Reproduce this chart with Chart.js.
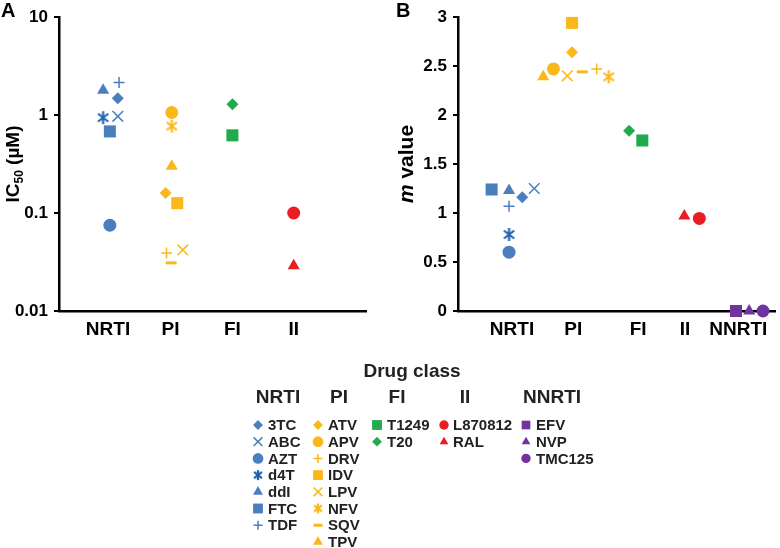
<!DOCTYPE html>
<html><head><meta charset="utf-8">
<script src="https://cdn.jsdelivr.net/npm/chart.js@4.4.1/dist/chart.umd.min.js"></script>
<style>
html,body{margin:0;padding:0;background:#fff;width:780px;height:548px;overflow:hidden}
canvas{position:absolute;display:block}
#cA{left:0;top:0}
#cB{left:390px;top:0}
#leg{left:0;top:345px}
</style></head><body>
<canvas id="cA" width="390" height="345"></canvas>
<canvas id="cB" width="390" height="345"></canvas>
<canvas id="leg" width="780" height="203"></canvas>
<script>
// ---------------- data ----------------
const classes = ['NRTI', 'PI', 'FI', 'II', 'NNRTI'];
const drugs = ['3TC','ABC','AZT','d4T','ddI','FTC','TDF',
               'ATV','APV','DRV','IDV','LPV','NFV','SQV','TPV',
               'T1249','T20','L870812','RAL','EFV','NVP','TMC125'];
const drugClass = ['NRTI','NRTI','NRTI','NRTI','NRTI','NRTI','NRTI',
                   'PI','PI','PI','PI','PI','PI','PI','PI',
                   'FI','FI','II','II','NNRTI','NNRTI','NNRTI'];
// Panel A: IC50 (µM)
const ic50 = [1.48, 0.97, 0.075, 0.94, 1.79, 0.68, 2.14,
              0.16, 1.06, 0.039, 0.126, 0.042, 0.77, 0.031, 0.30,
              0.62, 1.29, 0.10, 0.029, null, null, null];
// Panel B: m value
const mValue = [1.16, 1.25, 0.60, 0.78, 1.23, 1.24, 1.07,
                2.64, 2.47, 2.47, 2.94, 2.40, 2.39, 2.44, 2.39,
                1.74, 1.84, 0.945, 0.97, 0, 0, 0];
// horizontal spread within a class (category units)
const jitterA = [0.13, 0.13, 0, -0.11, -0.11, 0, 0.15,
                 -0.09, 0.01, -0.075, 0.10, 0.19, 0.01, 0, 0.01,
                 0, 0, 0, 0, 0, 0, 0];
const jitterB = [0.22, 0.42, 0, 0, 0, -0.29, 0,
                 0.05, -0.26, 0.46, 0.05, -0.03, 0.66, 0.22, -0.43,
                 0.22, 0, 0.17, -0.08, -0.22, 0, 0.23];
const yTicksA = [0.01, 0.1, 1, 10];
const yTicksB = [0, 0.5, 1, 1.5, 2, 2.5, 3];

// ---------------- styles ----------------
const FONT = '"Liberation Sans", Arial, Helvetica, sans-serif';
Chart.defaults.font.family = FONT;
Chart.defaults.color = '#000';
const classColor = {NRTI:'#4a7ebf', PI:'#fbb81a', FI:'#22ab4b', II:'#ec1c24', NNRTI:'#7133a0'};
const drugColorOverride = {d4T:'#2062b0'};
const drugShape = {'3TC':'diamond', ABC:'x', AZT:'circle', d4T:'asterisk', ddI:'triangle', FTC:'square', TDF:'plus',
  ATV:'diamond', APV:'circle', DRV:'plus', IDV:'square', LPV:'x', NFV:'asterisk', SQV:'dash', TPV:'triangle',
  T1249:'square', T20:'diamond', L870812:'circle', RAL:'triangle', EFV:'square', NVP:'triangle', TMC125:'circle'};

function asteriskImg(color, size, lw) {
  const c = document.createElement('canvas'); c.width = c.height = size;
  const g = c.getContext('2d'); g.strokeStyle = color; g.lineWidth = lw;
  const r = size / 2 - 1, cx = size / 2, cy = size / 2;
  [90, 38, 142].forEach(a => {
    const t = a * Math.PI / 180;
    g.beginPath(); g.moveTo(cx - r * Math.cos(t), cy - r * Math.sin(t));
    g.lineTo(cx + r * Math.cos(t), cy + r * Math.sin(t)); g.stroke();
  });
  return c;
}
function marker(shape, color, k) {
  switch (shape) {
    case 'circle': return {pointStyle:'circle', radius:6.5*k, bw:0};
    case 'square': return {pointStyle:'rect', radius:8.5*k, bw:0};
    case 'diamond': return {pointStyle:'rectRot', radius:6*k, bw:0};
    case 'triangle': return {pointStyle:'triangle', radius:7*k, bw:0};
    case 'x': return {pointStyle:'crossRot', radius:7.5*k, bw:1.5};
    case 'plus': return {pointStyle:'cross', radius:5.5*k, bw:1.5};
    case 'dash': return {pointStyle:'line', radius:5.5*k, bw:3};
    case 'asterisk': return {pointStyle:asteriskImg(color, Math.round(15*k), 2.2), radius:7.5*k, bw:0};
  }
}
function drugColor(d, i) { return drugColorOverride[d] || classColor[drugClass[i]]; }

function makeDatasets(values, jitter) {
  const out = [];
  drugs.forEach((d, i) => {
    if (values[i] === null) return;
    const col = drugColor(d, i);
    const m = marker(drugShape[d], col, 1);
    out.push({
      label: d,
      data: [{x: classes.indexOf(drugClass[i]) + 1 + jitter[i], y: values[i]}],
      pointStyle: m.pointStyle, pointRadius: m.radius, pointHoverRadius: m.radius,
      pointBackgroundColor: col, pointBorderColor: col, pointBorderWidth: m.bw,
      pointHoverBorderWidth: m.bw, showLine: false, clip: false
    });
  });
  return out;
}

const panelText = {
  id: 'panelText',
  afterDraw(chart, args, o) {
    const {ctx, chartArea} = chart;
    ctx.save();
    ctx.fillStyle = '#000';
    ctx.font = 'bold 20px ' + FONT;
    ctx.textBaseline = 'top'; ctx.textAlign = 'left';
    ctx.fillText(o.letter, o.letterX, 1);
    const cy = (chartArea.top + chartArea.bottom) / 2;
    ctx.translate(o.titleX, cy);
    ctx.rotate(-Math.PI / 2);
    ctx.textBaseline = 'alphabetic';
    let w = 0;
    o.parts.forEach(p => { ctx.font = p.f + ' ' + FONT; w += ctx.measureText(p.t).width; });
    let x = -w / 2;
    o.parts.forEach(p => {
      ctx.font = p.f + ' ' + FONT;
      ctx.fillText(p.t, x, p.dy || 0);
      x += ctx.measureText(p.t).width;
    });
    ctx.restore();
  }
};

function makeChart(id, datasets, xcfg, ycfg, text, yWidth, padRight) {
  return new Chart(document.getElementById(id), {
    type: 'scatter',
    data: {datasets},
    plugins: [panelText],
    options: {
      responsive: false, animation: false, devicePixelRatio: 1,
      layout: {padding: {left: 0, top: 17, right: padRight, bottom: 0}, autoPadding: false},
      plugins: {legend: {display: false}, tooltip: {enabled: false}, panelText: text},
      scales: {
        x: Object.assign({
          type: 'linear', position: 'bottom',
          grid: {display: false, drawTicks: false},
          border: {display: true, color: '#000', width: 2.5},
          ticks: {autoSkip: false, maxRotation: 0, padding: 7, color: '#000',
                  font: {size: 19, weight: 'bold'},
                  callback: (v, i) => classes[i]},
          afterFit: s => { s.height = 34; s.paddingLeft = 0; s.paddingRight = 0; }
        }, xcfg),
        y: Object.assign({
          grid: {display: true, drawOnChartArea: false, drawTicks: true, tickLength: 5, color: '#000', lineWidth: 2},
          border: {display: true, color: '#000', width: 2.5},
          ticks: {padding: 6, color: '#000', font: {size: 17, weight: 'bold'}, callback: v => String(v)},
          afterFit: s => { s.width = yWidth; s.paddingTop = 0; s.paddingBottom = 0; }
        }, ycfg)
      }
    }
  });
}

const tickPosA = [0.97, 1.99, 3.0, 4.0];
const tickPosB = [1.05, 2.07, 3.15, 3.93, 4.82];

makeChart('cA', makeDatasets(ic50, jitterA),
  {min: 0.17, max: 5.18, afterBuildTicks: s => { s.ticks = tickPosA.map(v => ({value: v})); }},
  {type: 'logarithmic', min: 0.01, max: 10, afterBuildTicks: s => { s.ticks = yTicksA.map(v => ({value: v})); }},
  {letter: 'A', letterX: 1, titleX: 19, parts: [{t:'IC', f:'bold 19px'}, {t:'50', f:'bold 12px', dy: 4}, {t:' (µM)', f:'bold 19px'}]},
  59, 24);

makeChart('cB', makeDatasets(mValue, jitterB),
  {min: 0.15, max: 5.43, afterBuildTicks: s => { s.ticks = tickPosB.map(v => ({value: v})); }},
  {type: 'linear', min: 0, max: 3, afterBuildTicks: s => { s.ticks = yTicksB.map(v => ({value: v})); }},
  {letter: 'B', letterX: 6, titleX: 23, parts: [{t:'m', f:'italic bold 21px'}, {t:' value', f:'bold 21px'}]},
  68, 5);

// ---------------- legend ----------------
(function () {
  const cv = document.getElementById('leg');
  const g = cv.getContext('2d');
  const top = 345;
  g.fillStyle = '#222';
  g.textAlign = 'center'; g.textBaseline = 'middle';
  g.font = 'bold 19px ' + FONT;
  g.fillText('Drug class', 412, 372 - top);
  const cols = [{m:258, t:268, h:278}, {m:318, t:328, h:339}, {m:377, t:387, h:397}, {m:444, t:453, h:465}, {m:526, t:536, h:552}];
  g.font = 'bold 19px ' + FONT;
  classes.forEach((c, ci) => g.fillText(c, cols[ci].h, 398 - top));
  const rowY0 = 425, rowH = 16.7;
  classes.forEach((c, ci) => {
    let r = 0;
    drugs.forEach((d, i) => {
      if (drugClass[i] !== c) return;
      const y = rowY0 + r * rowH - top;
      const col = drugColor(d, i);
      const k = (c === 'NNRTI' || c === 'II') ? 0.72 : 0.82;
      const m = marker(drugShape[d], col, k);
      g.save();
      g.fillStyle = col; g.strokeStyle = col; g.lineWidth = m.bw;
      Chart.helpers.drawPoint(g, {pointStyle: m.pointStyle, radius: m.radius, rotation: 0, borderWidth: m.bw}, cols[ci].m, y);
      g.restore();
      g.fillStyle = '#222'; g.textAlign = 'left'; g.textBaseline = 'middle';
      g.font = 'bold 15px ' + FONT;
      g.fillText(d, cols[ci].t, y + 1);
      r++;
    });
  });
})();
</script></body></html>
